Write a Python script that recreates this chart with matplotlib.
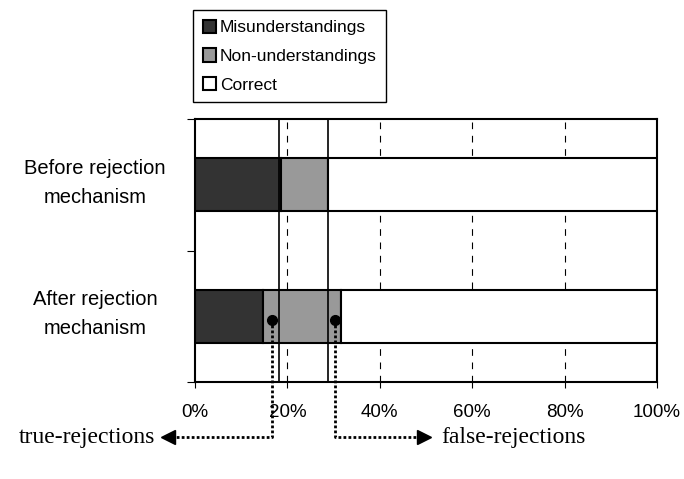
import matplotlib.pyplot as plt
import matplotlib.transforms as mtransforms
from matplotlib.patches import Patch

# data
groups = ['Before rejection\nmechanism', 'After rejection\nmechanism']
misunderstandings = [18.6, 14.7]
non_understandings = [10.2, 16.9]
correct = [71.2, 68.4]
# reference lines (before-rejection boundaries) and annotation points
ref_lines = [18.2, 28.8]
true_rej_x = 16.7
false_rej_x = 30.3
xticks = [0, 20, 40, 60, 80, 100]

plt.rcParams['font.family'] = ['Liberation Sans', 'DejaVu Sans']

fig = plt.figure(figsize=(6.84, 4.79), dpi=100)
ax = fig.add_axes([195 / 684, 1 - 382 / 479, 462 / 684, 263 / 479])

ypos = [0.5, 1.5]
h = 0.4
left2 = [a + b for a, b in zip(misunderstandings, non_understandings)]
ax.barh(ypos, misunderstandings, height=h, color='#333333', edgecolor='black', lw=1.5, zorder=3)
ax.barh(ypos, non_understandings, left=misunderstandings, height=h, color='#999999',
        edgecolor='black', lw=1.5, zorder=3)
ax.barh(ypos, correct, left=left2, height=h, color='white', edgecolor='black', lw=1.5, zorder=3)

# dashed grid
for x in xticks[1:-1]:
    ax.axvline(x, color='black', lw=0.8, ls=(0, (6, 6)), zorder=1)
# solid lines for the before-rejection boundaries
for x in ref_lines:
    ax.axvline(x, color='black', lw=1.2, zorder=4)

ax.set_xlim(0, 100)
ax.set_ylim(2, 0)
ax.set_xticks(xticks)
ax.set_xticklabels([f'{x}%' for x in xticks], fontsize=13.5)
ax.tick_params(axis='x', length=4, pad=12)
ax.set_yticks([0, 1, 2])
ax.set_yticklabels([])
ax.tick_params(axis='y', which='major', length=6)
for s in ax.spines.values():
    s.set_linewidth(1.5)

# category labels, centred left of the axis and a little above the bar centre
lab_tr = mtransforms.blended_transform_factory(ax.transAxes, ax.transData) + \
    mtransforms.ScaledTranslation(-100 / 100, 2 / 100, fig.dpi_scale_trans)
for y, g in zip(ypos, groups):
    ax.text(0, y, g, transform=lab_tr, ha='center', va='center', fontsize=14.5,
            linespacing=1.65)

# annotations
dot_y = 1.53
arrow_y = 2.42
dot_style = dict(color='black', lw=2, ls=(0, (1, 0.8)), clip_on=False, zorder=6)
ax.plot([true_rej_x, true_rej_x, -5.5], [dot_y, arrow_y, arrow_y], **dot_style)
ax.plot([false_rej_x, false_rej_x, 49.0], [dot_y, arrow_y, arrow_y], **dot_style)
ax.plot([true_rej_x, false_rej_x], [dot_y, dot_y], 'o', color='black', ms=7, clip_on=False, zorder=7)
ax.plot([-5.8], [arrow_y], marker='<', color='black', ms=10, clip_on=False, zorder=7)
ax.plot([49.6], [arrow_y], marker='>', color='black', ms=10, clip_on=False, zorder=7)
ax.text(-8.6, arrow_y, 'true-rejections', ha='right', va='center', fontsize=17,
        family=['Liberation Serif', 'DejaVu Serif'])
ax.text(53.3, arrow_y, 'false-rejections', ha='left', va='center', fontsize=17,
        family=['Liberation Serif', 'DejaVu Serif'])

handles = [Patch(facecolor='#333333', edgecolor='black', lw=1.5, label='Misunderstandings'),
           Patch(facecolor='#999999', edgecolor='black', lw=1.5, label='Non-understandings'),
           Patch(facecolor='white', edgecolor='black', lw=1.5, label='Correct')]
leg = fig.legend(handles=handles, loc='upper left', bbox_to_anchor=(193 / 684, 1 - 10 / 479),
                 borderaxespad=0, fontsize=12.5, fancybox=False, edgecolor='black', framealpha=1,
                 handlelength=0.8, handleheight=0.8, handletextpad=0.2,
                 labelspacing=0.75, borderpad=0.55)
leg.get_frame().set_linewidth(1.0)

fig.savefig('out.png', dpi=100)
